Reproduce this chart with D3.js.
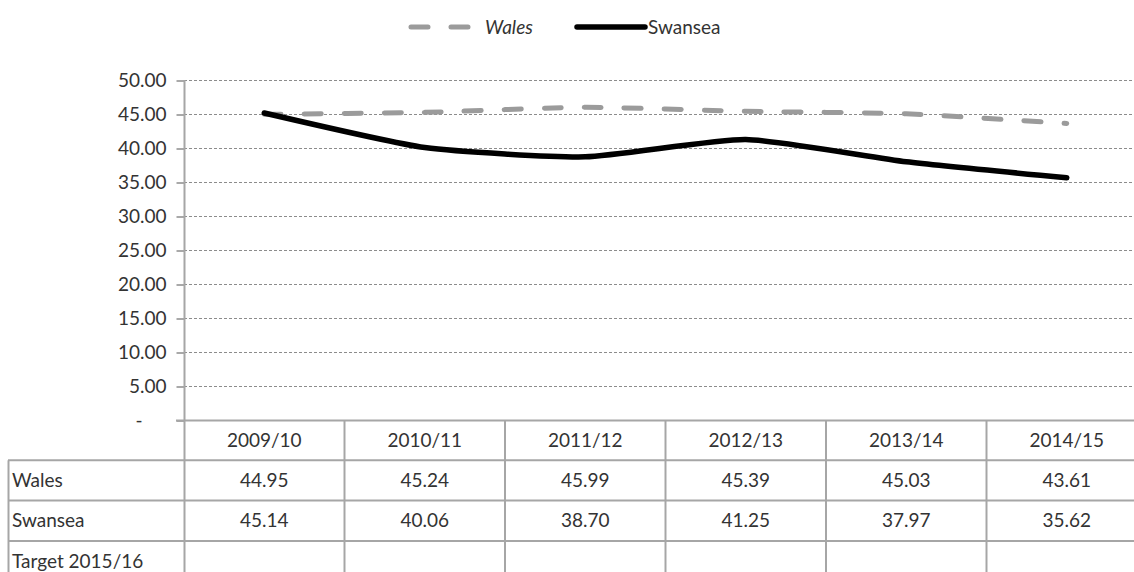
<!DOCTYPE html>
<html>
<head>
<meta charset="utf-8">
<script src="https://cdn.jsdelivr.net/npm/d3@7"></script>
<style>
  body { margin: 0; background: #fff; }
  text { font-family: Lato, "Open Sans", sans-serif; fill: #333; }
</style>
</head>
<body>
<svg id="chart"></svg>
<script>
// data
const years = ['2009/10', '2010/11', '2011/12', '2012/13', '2013/14', '2014/15'];
const wales = [44.95, 45.24, 45.99, 45.39, 45.03, 43.61];
const swansea = [45.14, 40.06, 38.70, 41.25, 37.97, 35.62];
const yTicks = [0, 5, 10, 15, 20, 25, 30, 35, 40, 45, 50];
const rowLabels = ['Wales', 'Swansea', 'Target 2015/16'];

const width = 1134;
const height = 572;
const fontSize = 19;
const gridColor = '#8c8c8c';
const tableColor = '#a6a6a6';

const svg = d3.select('#chart')
  .attr('width', width)
  .attr('height', height);

// scales
const x = d3.scaleBand()
  .domain(years)
  .range([184, 184 + 6 * 160.5])
  .padding(0);

const y = d3.scaleLinear()
  .domain([0, 50])
  .range([420, 80]);

// gridlines
svg.append('g')
  .selectAll('line')
  .data(yTicks.filter(d => d > 0))
  .enter()
  .append('line')
  .attr('x1', 184)
  .attr('x2', width)
  .attr('y1', d => y(d) + 0.5)
  .attr('y2', d => y(d) + 0.5)
  .attr('stroke', gridColor)
  .attr('stroke-width', 1)
  .attr('stroke-dasharray', '3,2');

// y axis
const yAxis = svg.append('g')
  .attr('transform', 'translate(184.5,0)')
  .call(d3.axisLeft(y)
    .tickValues(yTicks)
    .tickSize(8)
    .tickPadding(10)
    .tickFormat(d => d === 0 ? '-' : d3.format('.2f')(d)));
yAxis.select('.domain').remove();
yAxis.selectAll('.tick line')
  .attr('stroke', gridColor)
  .attr('stroke-width', 1.5)
  .attr('transform', 'translate(0,0.5)');
yAxis.selectAll('.tick text')
  .style('font-size', fontSize + 'px')
  .attr('fill', '#333');
// zero shows as a dash, set in from the right edge
yAxis.selectAll('.tick text')
  .filter(d => d === 0)
  .attr('x', -42);

// table grid
const rowTop = 420;
const rowH = 40.3;
const tbl = svg.append('g');
const colEdges = years.map(d => x(d)).concat([x.range()[1]]);

// horizontal lines
tbl.append('line')
  .attr('x1', 176).attr('x2', width)
  .attr('y1', rowTop + 0.5).attr('y2', rowTop + 0.5)
  .attr('stroke', tableColor).attr('stroke-width', 2);
[1, 2, 3].forEach(i => {
  tbl.append('line')
    .attr('x1', 8).attr('x2', width)
    .attr('y1', rowTop + i * rowH).attr('y2', rowTop + i * rowH)
    .attr('stroke', tableColor).attr('stroke-width', 2);
});

// vertical lines
tbl.append('line')
  .attr('x1', 8.5).attr('x2', 8.5)
  .attr('y1', rowTop + rowH).attr('y2', height)
  .attr('stroke', tableColor).attr('stroke-width', 2);
tbl.append('line')
  .attr('x1', 184.5).attr('x2', 184.5)
  .attr('y1', y(50)).attr('y2', height)
  .attr('stroke', tableColor).attr('stroke-width', 2);
tbl.selectAll('.col-edge')
  .data(colEdges.slice(1))
  .enter()
  .append('line')
  .attr('class', 'col-edge')
  .attr('x1', d => d).attr('x2', d => d)
  .attr('y1', rowTop).attr('y2', height)
  .attr('stroke', tableColor).attr('stroke-width', 2);

// header row
tbl.selectAll('.hdr')
  .data(years)
  .enter()
  .append('text')
  .attr('class', 'hdr')
  .attr('x', d => x(d) + x.bandwidth() / 2)
  .attr('y', rowTop + rowH / 2)
  .attr('dy', '0.35em')
  .attr('text-anchor', 'middle')
  .style('font-size', fontSize + 'px')
  .text(d => d);

// row labels
tbl.selectAll('.rowlabel')
  .data(rowLabels)
  .enter()
  .append('text')
  .attr('class', 'rowlabel')
  .attr('x', 12)
  .attr('y', (d, i) => rowTop + (i + 1) * rowH + rowH / 2)
  .attr('dy', '0.35em')
  .style('font-size', fontSize + 'px')
  .text(d => d);

// row values
[wales, swansea].forEach((vals, r) => {
  tbl.selectAll('.val' + r)
    .data(vals)
    .enter()
    .append('text')
    .attr('class', 'val' + r)
    .attr('x', (d, i) => x(years[i]) + x.bandwidth() / 2)
    .attr('y', rowTop + (r + 1) * rowH + rowH / 2)
    .attr('dy', '0.35em')
    .attr('text-anchor', 'middle')
    .style('font-size', fontSize + 'px')
    .text(d => d3.format('.2f')(d));
});

// lines (smoothed like the spreadsheet)
const line = d3.line()
  .x((d, i) => x(years[i]) + x.bandwidth() / 2)
  .y(d => y(d))
  .curve(d3.curveCardinal.tension(0.45));

svg.append('path')
  .datum(wales)
  .attr('d', line)
  .attr('fill', 'none')
  .attr('stroke', '#9b9b9b')
  .attr('stroke-width', 5)
  .attr('stroke-linecap', 'round')
  .attr('stroke-dasharray', '17,23');

svg.append('path')
  .datum(swansea)
  .attr('d', line)
  .attr('fill', 'none')
  .attr('stroke', '#000')
  .attr('stroke-width', 5.5)
  .attr('stroke-linecap', 'round');

// legend
const legend = svg.append('g');
legend.append('line')
  .attr('x1', 411).attr('x2', 468)
  .attr('y1', 27).attr('y2', 27)
  .attr('stroke', '#9b9b9b')
  .attr('stroke-width', 5)
  .attr('stroke-linecap', 'round')
  .attr('stroke-dasharray', '17,23');
legend.append('text')
  .attr('x', 485)
  .attr('y', 27)
  .attr('dy', '0.35em')
  .style('font-size', fontSize + 'px')
  .style('font-style', 'italic')
  .text('Wales');
legend.append('line')
  .attr('x1', 577).attr('x2', 645)
  .attr('y1', 27).attr('y2', 27)
  .attr('stroke', '#000')
  .attr('stroke-width', 5.5)
  .attr('stroke-linecap', 'round');
legend.append('text')
  .attr('x', 648)
  .attr('y', 27)
  .attr('dy', '0.35em')
  .style('font-size', fontSize + 'px')
  .text('Swansea');
</script>
</body>
</html>
